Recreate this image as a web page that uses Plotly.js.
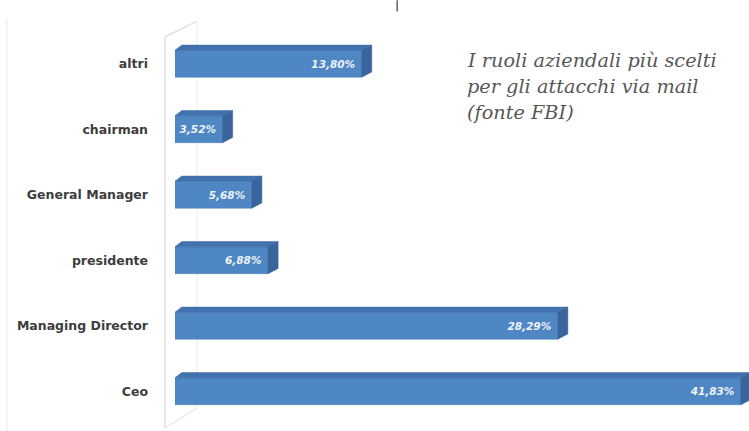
<!DOCTYPE html>
<html>
<head>
<meta charset="utf-8">
<script src="https://cdn.plot.ly/plotly-3.0.1.min.js"></script>
<style>
  html, body { margin: 0; padding: 0; background: #ffffff; }
  #chart { width: 749px; height: 431px; }
</style>
</head>
<body>
<div id="chart"></div>
<script>
// Data (top to bottom as shown)
const categories = ["altri", "chairman", "General Manager", "presidente", "Managing Director", "Ceo"];
const values = [13.80, 3.52, 5.68, 6.88, 28.29, 41.83];
const titleLines = ["I ruoli aziendali più scelti", "per gli attacchi via mail", "(fonte FBI)"];

// Positions on a numeric y axis (Ceo at bottom)
const n = categories.length;
const ypos = categories.map((c, i) => n - 1 - i);
const labels = values.map(v => v.toFixed(2).replace('.', ',') + '%\u00a0');

const barW = 0.41;   // front face thickness in category units
const dx = 0.74;     // depth offset in value units
const dy = 0.08;     // depth offset in category units

// Top faces and side faces of the 3D bars, derived from data
const topX = [], topY = [], sideX = [], sideY = [];
values.forEach((v, i) => {
  const yc = ypos[i];
  const yt = yc + barW / 2, yb = yc - barW / 2;
  topX.push(0, 0.5, v + dx, v, 0, null);
  topY.push(yt, yt + dy, yt + dy, yt, yt, null);
  sideX.push(v, v + dx, v + dx, v, v, null);
  sideY.push(yb, yb + dy, yt + dy, yt, yb, null);
});

const traces = [
  {
    type: 'bar', orientation: 'h',
    x: values, y: ypos, width: barW,
    marker: { color: '#4f86c4', line: { color: '#4479b8', width: 0.5 } },
    text: labels, textposition: 'inside', insidetextanchor: 'end',
    textfont: { family: 'DejaVu Sans', size: 10.5, color: '#eef3fa', weight: 'bold', style: 'italic' },
    hoverinfo: 'skip', cliponaxis: false
  },
  {
    type: 'scatter', mode: 'lines', x: topX, y: topY, fill: 'toself',
    fillcolor: '#4272ae', line: { color: '#3c69a2', width: 0.5 },
    hoverinfo: 'skip', cliponaxis: false
  },
  {
    type: 'scatter', mode: 'lines', x: sideX, y: sideY, fill: 'toself',
    fillcolor: '#3a659c', line: { color: '#355e92', width: 0.5 },
    hoverinfo: 'skip', cliponaxis: false
  }
];

const layout = {
  width: 749, height: 431,
  margin: { l: 175, r: 0, t: 31, b: 7 },
  paper_bgcolor: '#ffffff', plot_bgcolor: 'rgba(0,0,0,0)',
  showlegend: false,
  xaxis: { range: [0, 42.42], showgrid: false, zeroline: false, showticklabels: false, showline: false, fixedrange: true },
  yaxis: {
    range: [-0.5, 5.5], tickmode: 'array', tickvals: ypos, ticktext: categories,
    showgrid: false, zeroline: false, showline: false, ticks: '',
    ticklabelstandoff: 26,
    tickfont: { family: 'DejaVu Sans', size: 12.5, color: '#3d3d3d', weight: 'bold' },
    fixedrange: true
  },
  shapes: [
    // back-wall edges (3D frame)
    { type: 'line', xref: 'paper', yref: 'paper', x0: -0.0174, x1: -0.0174, y0: 0.985, y1: -0.01, line: { color: '#d8d8d8', width: 1.2 }, layer: 'below' },
    { type: 'line', xref: 'paper', yref: 'paper', x0: 0.0383, x1: 0.0383, y0: 1.025, y1: 0.04, line: { color: '#ececec', width: 1 }, layer: 'below' },
    { type: 'line', xref: 'paper', yref: 'paper', x0: -0.0174, x1: 0.0383, y0: 0.985, y1: 1.025, line: { color: '#dcdcdc', width: 1.2 }, layer: 'below' },
    { type: 'line', xref: 'paper', yref: 'paper', x0: -0.0174, x1: 0.0383, y0: -0.01, y1: 0.04, line: { color: '#e2e2e2', width: 1 }, layer: 'below' },
    // faint left border
    { type: 'line', xref: 'paper', yref: 'paper', x0: -0.293, x1: -0.293, y0: 1.03, y1: -0.03, line: { color: '#e6e6e6', width: 1 }, layer: 'below' },
    // small black mark at top
    { type: 'line', xref: 'paper', yref: 'paper', x0: 0.387, x1: 0.387, y0: 1.078, y1: 1.050, line: { color: '#111111', width: 1 } }
  ],
  annotations: titleLines.map((t, i) => ({
    xref: 'paper', yref: 'paper',
    x: (465 - 175) / 574, y: (424 - (60 + i * 26.5)) / 393,
    xanchor: 'left', yanchor: 'middle',
    text: t, showarrow: false,
    font: { family: 'DejaVu Serif', size: 19.3, color: '#575757', style: 'italic' }
  }))
};

Plotly.newPlot('chart', traces, layout, { displayModeBar: false, staticPlot: true });
</script>
</body>
</html>
